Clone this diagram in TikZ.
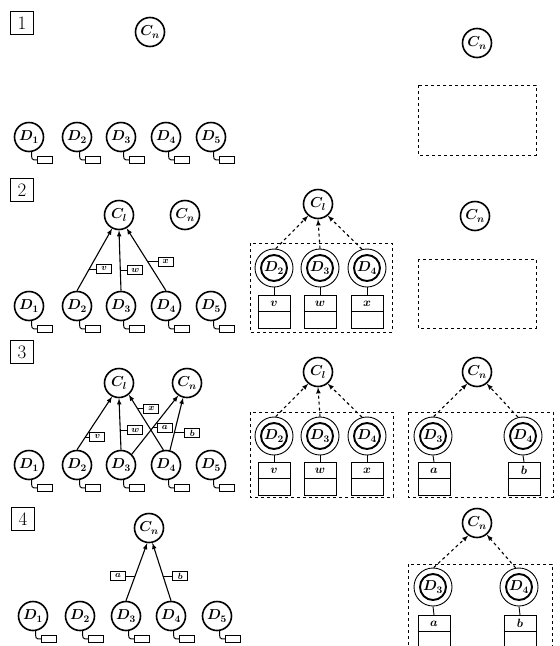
\documentclass[tikz,border=0pt]{standalone}
\usetikzlibrary{positioning,calc}
\tikzset{
  dnode/.style={circle, draw, line width=1.6pt, minimum size=29pt, inner sep=0pt, font=\fontsize{14}{14}\selectfont\boldmath},
  inring/.style={circle, draw, line width=1.9pt, minimum size=26pt, inner sep=0pt, font=\fontsize{14}{14}\selectfont\boldmath},
  outring/.style={circle, draw, line width=0.9pt, minimum size=38pt, inner sep=0pt},
  stub/.style={draw, line width=1pt, minimum width=15pt, minimum height=7pt, inner sep=0pt},
  stubline/.style={line width=1pt},
  tag/.style={draw, line width=1pt, minimum width=15pt, minimum height=9pt, inner sep=0pt, font=\fontsize{9}{9}\selectfont\boldmath},
  tagline/.style={line width=0.9pt},
  flow/.style={->, line width=1.1pt},
  link/.style={->, dashed, line width=1.1pt},
  pool/.style={draw, dashed, line width=0.9pt},
  store/.style={draw, line width=1pt, minimum width=32pt, minimum height=33pt, inner sep=0pt, anchor=north},
  storetext/.style={font=\fontsize{12}{12}\selectfont\boldmath, inner sep=0pt},
  numbox/.style={draw, line width=0.9pt, minimum size=23pt, inner sep=0pt, font=\fontsize{19}{19}\selectfont}
}
\begin{document}
\begin{tikzpicture}[x=1pt, y=-1pt, >=latex]
\useasboundingbox (0,0) rectangle (560,646);
\clip (0,0) rectangle (560,646);
% Panel 1
\node[numbox] (n1) at (22,23) {1};
\node[dnode] (acn) at (150,32) {$C_n$};
\foreach \i/\x in {1/29,2/77,3/121,4/166,5/211} {
  \node[dnode] (a\i) at (\x,137) {$D_{\i}$};
  \node[stub] (as\i) at (\x+16,160) {};
  \draw[stubline] (a\i.-80) .. controls +(0,7) and +(-6,0) .. (as\i.west);
}
\node[dnode] (arcn) at (477,43) {$C_n$};
\draw[pool] (418,85) rectangle (536,155);

% Panel 2
\node[numbox] (n2) at (22,190) {2};
\node[dnode] (bcl) at (119,215) {$C_l$};
\node[dnode] (bcn) at (185,215) {$C_n$};
\foreach \i/\x in {1/29,2/77,3/121,4/166,5/211} {
  \node[dnode] (b\i) at (\x,306) {$D_{\i}$};
  \node[stub] (bs\i) at (\x+16,329) {};
  \draw[stubline] (b\i.-80) .. controls +(0,7) and +(-6,0) .. (bs\i.west);
}
\draw[flow] (b2.north) -- (bcl.-117);
\draw[flow] (b3.north) -- (bcl.-90);
\draw[flow] (b4.north) -- (bcl.-60);
\coordinate (bqv) at ($(b2.north)!0.35!(bcl.-117)$);
\coordinate (bqw) at ($(b3.north)!0.34!(bcl.-90)$);
\coordinate (bqx) at ($(b4.north)!0.465!(bcl.-60)$);
\node[tag, right=7pt of bqv] (btv) {$v$};
\node[tag, right=7pt of bqw] (btw) {$w$};
\node[tag, right=10pt of bqx] (btx) {$x$};
\draw[tagline] (bqv) -- (btv);
\draw[tagline] (bqw) -- (btw);
\draw[tagline] (bqx) -- (btx);
% middle
\node[dnode] (mcl) at (318,204) {$C_l$};
\draw[pool] (250,243) rectangle (392,332);
\foreach \i/\x/\t in {2/274/v,3/320/w,4/367/x} {
  \node[inring] (m\i) at (\x,268) {$D_{\i}$};
  \node[outring] (mo\i) at (\x,268) {};
  \node[store] (ms\i) at (\x,295) {};
  \draw[stubline] ($(ms\i.north west)+(0,16)$) -- ($(ms\i.north east)+(0,16)$);
  \node[storetext] (mt\i) at ($(ms\i.north)+(0,8.5)$) {$\t$};
  \draw[tagline] (mo\i.south) -- (ms\i.north);
}
\draw[link] (mo2.85) -- (mcl.-130);
\draw[link] (mo3.north) -- (mcl.-90);
\draw[link] (mo4.105) -- (mcl.-50);
% right
\node[dnode] (bmcn) at (475,216) {$C_n$};
\draw[pool] (418,259) rectangle (536,328);

% Panel 3
\node[numbox] (n3) at (22,352) {3};
\node[dnode] (ccl) at (119,383) {$C_l$};
\node[dnode] (ccn) at (187,383) {$C_n$};
\foreach \i/\x in {1/29,2/77,3/121,4/166,5/211} {
  \node[dnode] (c\i) at (\x,465) {$D_{\i}$};
  \node[stub] (cs\i) at (\x+16,488) {};
  \draw[stubline] (c\i.-80) .. controls +(0,7) and +(-6,0) .. (cs\i.west);
}
\draw[flow] (c2.north) -- (ccl.-117);
\draw[flow] (c3.north) -- (ccl.-90);
\draw[flow] (c4.100) -- (ccl.-50);
\draw[flow] (c3.45) -- (ccn.-125);
\draw[flow] (c4.75) -- (ccn.-105);
\coordinate (cqv) at ($(c2.north)!0.24!(ccl.-117)$);
\coordinate (cqw) at ($(c3.north)!0.38!(ccl.-90)$);
\coordinate (cqx) at ($(c4.100)!0.75!(ccl.-50)$);
\coordinate (cqa) at ($(c3.45)!0.45!(ccn.-125)$);
\coordinate (cqb) at ($(c4.75)!0.33!(ccn.-105)$);
\node[tag, right=4pt of cqv] (ctv) {$v$};
\node[tag, right=7pt of cqw] (ctw) {$w$};
\node[tag, right=6pt of cqx] (ctx) {$x$};
\node[tag, right=4pt of cqa] (cta) {$a$};
\node[tag, right=10pt of cqb] (ctb) {$b$};
\foreach \t in {v,w,x,a,b} \draw[tagline] (cq\t) -- (ct\t);
% middle
\node[dnode] (kcl) at (318,372) {$C_l$};
\draw[pool] (250,412) rectangle (393,497);
\foreach \i/\x/\t in {2/274/v,3/320/w,4/367/x} {
  \node[inring] (k\i) at (\x,436) {$D_{\i}$};
  \node[outring] (ko\i) at (\x,436) {};
  \node[store] (ks\i) at (\x,462) {};
  \draw[stubline] ($(ks\i.north west)+(0,16)$) -- ($(ks\i.north east)+(0,16)$);
  \node[storetext] (kt\i) at ($(ks\i.north)+(0,8.5)$) {$\t$};
  \draw[tagline] (ko\i.south) -- (ks\i.north);
}
\draw[link] (ko2.85) -- (kcl.-130);
\draw[link] (ko3.north) -- (kcl.-90);
\draw[link] (ko4.105) -- (kcl.-50);
% right
\node[dnode] (rcn) at (477,372) {$C_n$};
\draw[pool] (408,412) rectangle (553,497);
\foreach \i/\x/\t in {3/433/a,4/523/b} {
  \node[inring] (r\i) at (\x,436) {$D_{\i}$};
  \node[outring] (ro\i) at (\x,436) {};
  \node[store] (rs\i) at (\x+1,462) {};
  \draw[stubline] ($(rs\i.north west)+(0,16)$) -- ($(rs\i.north east)+(0,16)$);
  \node[storetext] (rt\i) at ($(rs\i.north)+(0,8.5)$) {$\t$};
  \draw[tagline] (ro\i.south) -- (rs\i.north);
}
\draw[link] (ro3.88) -- (rcn.-130);
\draw[link] (ro4.105) -- (rcn.-50);

% Panel 4
\node[numbox] (n4) at (23,519) {4};
\node[dnode] (dcn) at (149,528) {$C_n$};
\foreach \i/\x in {1/33,2/80,3/126,4/171,5/217} {
  \node[dnode] (d\i) at (\x,616) {$D_{\i}$};
  \node[stub] (ds\i) at (\x+16,639) {};
  \draw[stubline] (d\i.-80) .. controls +(0,7) and +(-6,0) .. (ds\i.west);
}
\draw[flow] (d3.north) -- (dcn.-97);
\draw[flow] (d4.north) -- (dcn.-77);
\coordinate (dqa) at ($(d3.north)!0.43!(dcn.-97)$);
\coordinate (dqb) at ($(d4.north)!0.42!(dcn.-77)$);
\node[tag, left=9pt of dqa] (dta) {$a$};
\node[tag, right=9pt of dqb] (dtb) {$b$};
\draw[tagline] (dqa) -- (dta);
\draw[tagline] (dqb) -- (dtb);
% right
\node[dnode] (ecn) at (477,523) {$C_n$};
\draw[pool] (408,564) rectangle (552,660);
\foreach \i/\x/\t in {3/433/a,4/519/b} {
  \node[inring] (e\i) at (\x,587) {$D_{\i}$};
  \node[outring] (eo\i) at (\x,587) {};
  \node[store] (es\i) at (\x+1,615) {};
  \draw[stubline] ($(es\i.north west)+(0,16)$) -- ($(es\i.north east)+(0,16)$);
  \node[storetext] (et\i) at ($(es\i.north)+(0,8.5)$) {$\t$};
  \draw[tagline] (eo\i.south) -- (es\i.north);
}
\draw[link] (eo3.88) -- (ecn.-125);
\draw[link] (eo4.100) -- (ecn.-50);
\end{tikzpicture}
\end{document}
